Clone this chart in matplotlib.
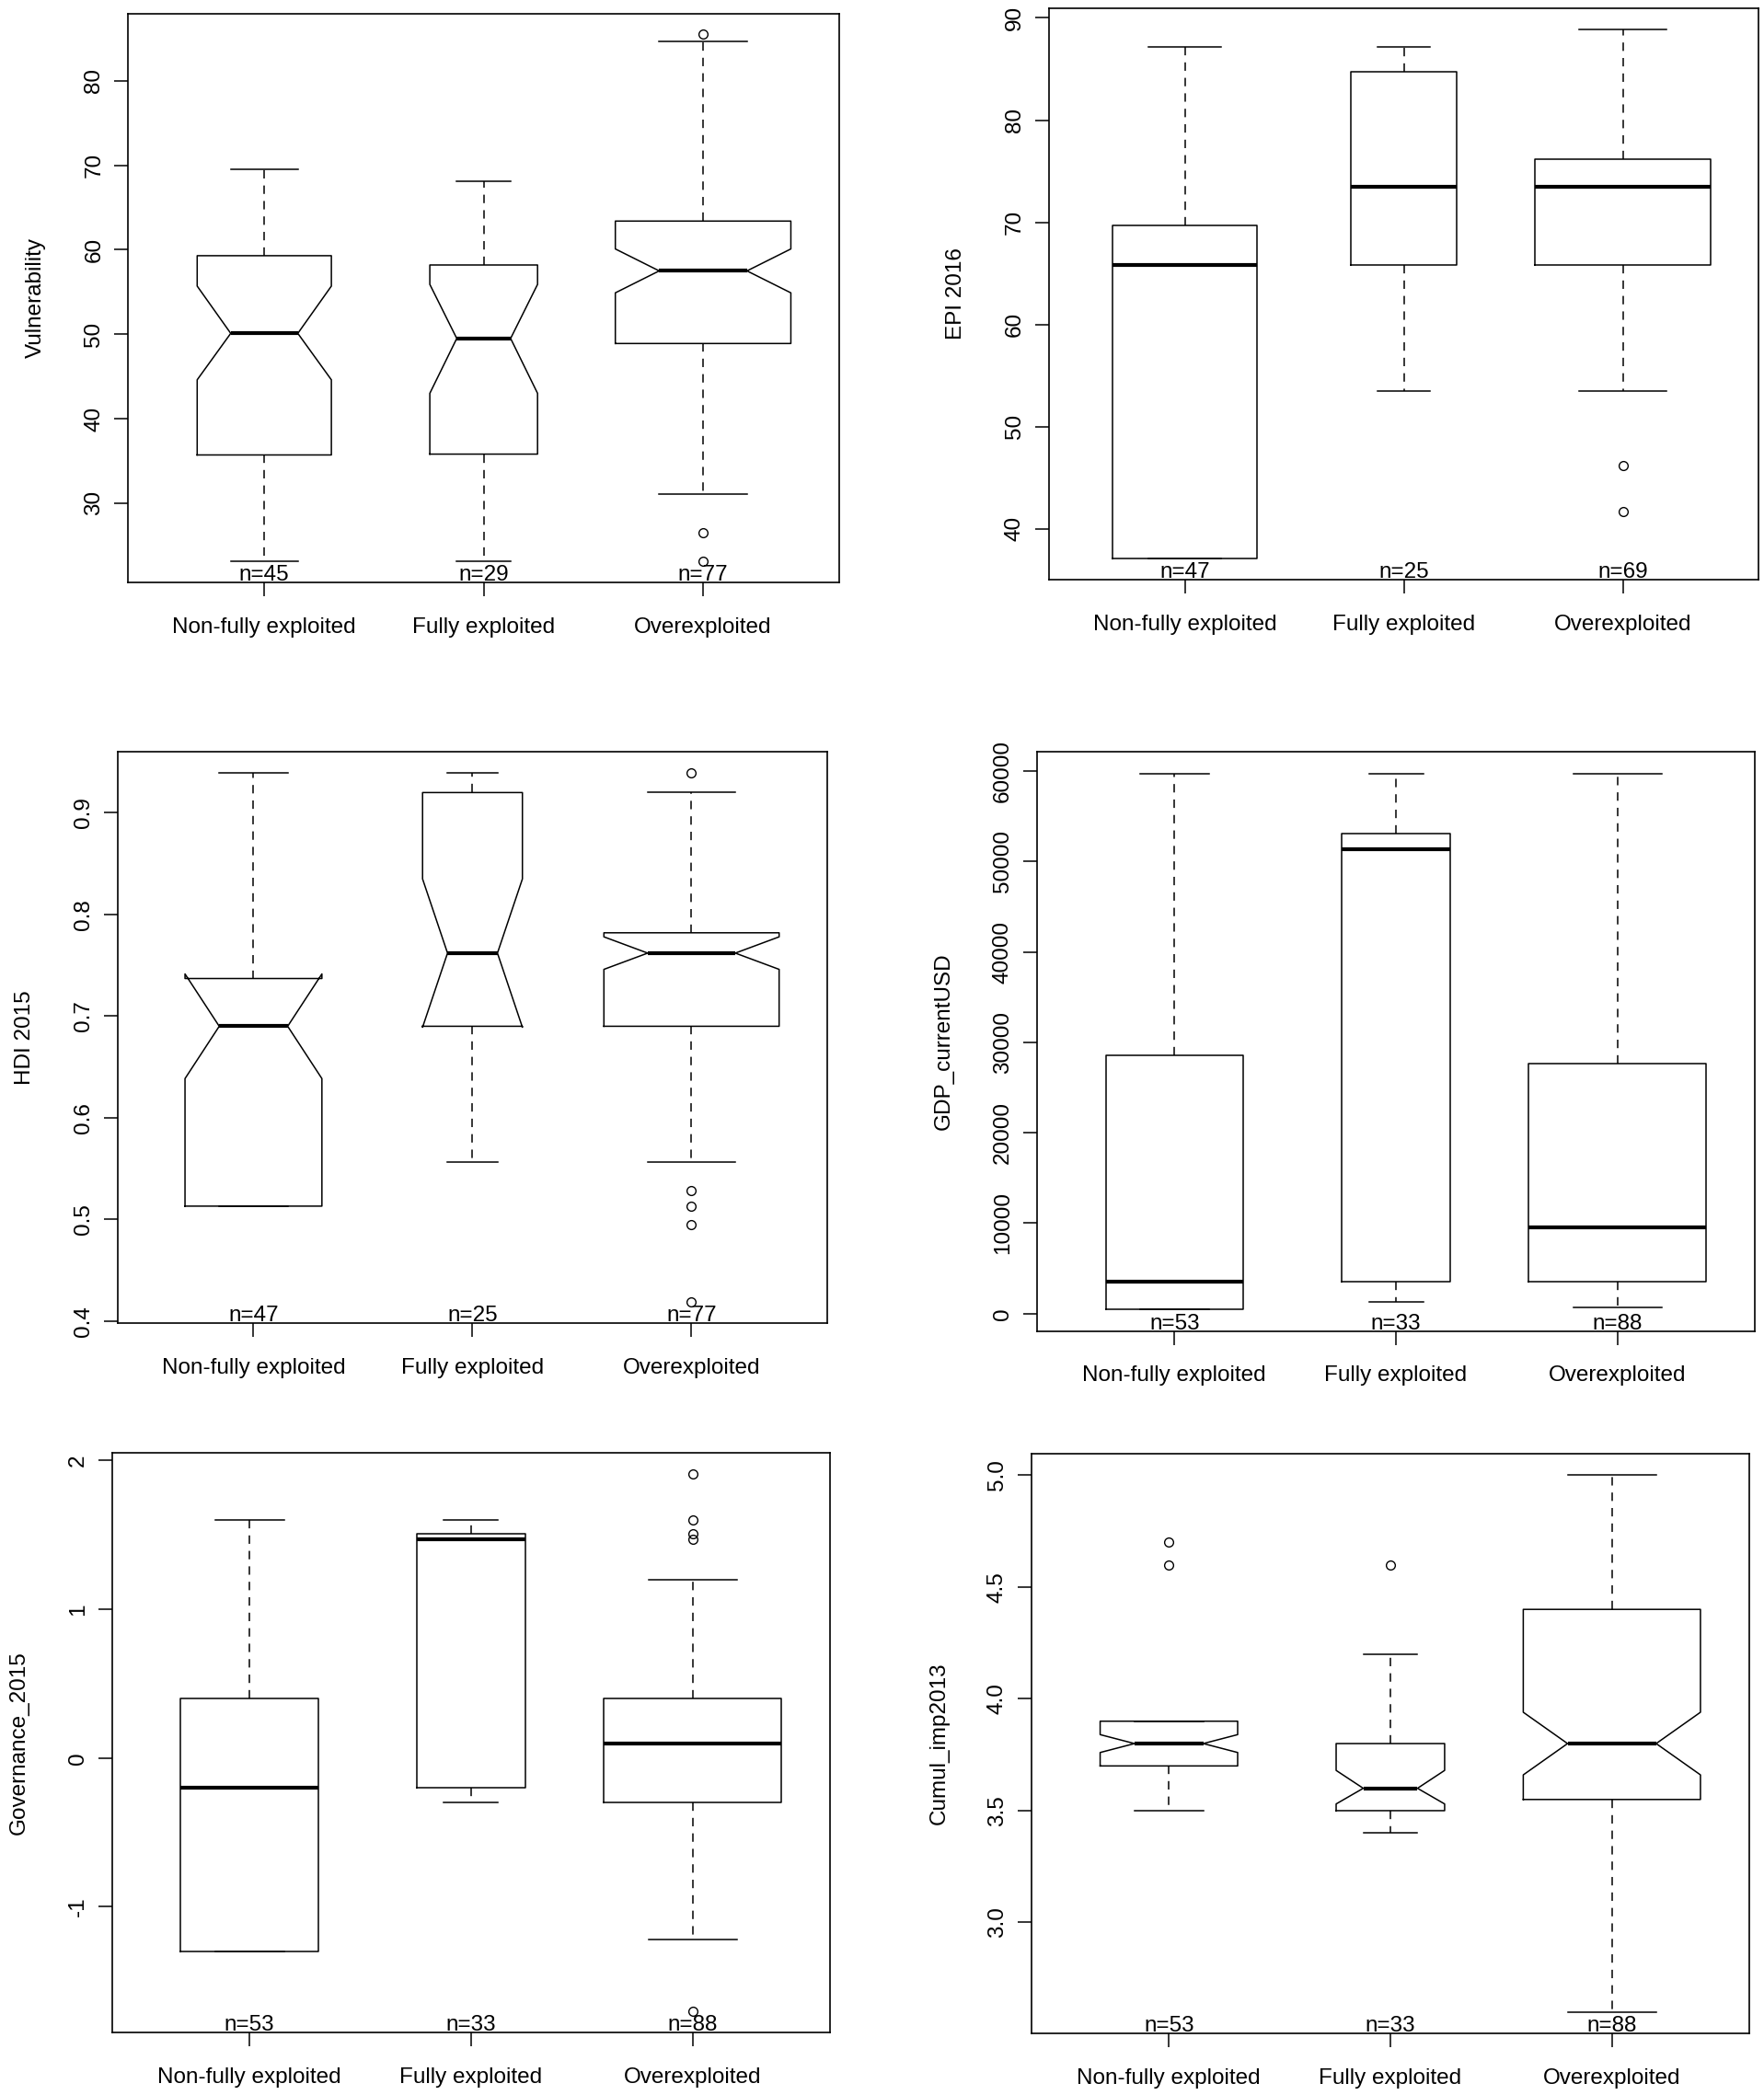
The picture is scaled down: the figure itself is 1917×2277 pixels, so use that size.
import numpy as np
import matplotlib
matplotlib.use('Agg')
import matplotlib.pyplot as plt
import matplotlib.transforms as mtransforms

plt.rcParams['font.family'] = ['Liberation Sans', 'DejaVu Sans']

groups = ['Non-fully exploited', 'Fully exploited', 'Overexploited']

# --- Vulnerability (notched) ---
vul_n = [45, 29, 77]
vul_whislo = [23.1, 23.1, 31.1]
vul_q1 = [35.7, 35.8, 48.9]
vul_cilo = [44.6, 43.0, 54.9]
vul_med = [50.1, 49.5, 57.5]
vul_cihi = [55.7, 55.9, 60.1]
vul_q3 = [59.3, 58.2, 63.4]
vul_whishi = [69.5, 68.1, 84.7]
vul_out = [[], [], [85.5, 26.5, 23.1]]
vul_ticks = [30, 40, 50, 60, 70, 80]

# --- EPI 2016 ---
epi_n = [47, 25, 69]
epi_whislo = [37.1, 53.5, 53.5]
epi_q1 = [37.1, 65.8, 65.8]
epi_med = [65.8, 73.5, 73.5]
epi_q3 = [69.7, 84.7, 76.2]
epi_whishi = [87.2, 87.2, 88.9]
epi_out = [[], [], [46.2, 41.7]]
epi_ticks = [40, 50, 60, 70, 80, 90]

# --- HDI 2015 (notched) ---
hdi_n = [47, 25, 77]
hdi_whislo = [0.513, 0.556, 0.556]
hdi_q1 = [0.513, 0.690, 0.690]
hdi_cilo = [0.6385, 0.689, 0.746]
hdi_med = [0.690, 0.762, 0.762]
hdi_cihi = [0.7415, 0.835, 0.778]
hdi_q3 = [0.737, 0.920, 0.782]
hdi_whishi = [0.939, 0.939, 0.920]
hdi_out = [[], [], [0.939, 0.528, 0.513, 0.495, 0.419]]
hdi_ticks = [0.4, 0.5, 0.6, 0.7, 0.8, 0.9]

# --- GDP current USD ---
gdp_n = [53, 33, 88]
gdp_whislo = [450, 1260, 680]
gdp_q1 = [450, 3500, 3500]
gdp_med = [3500, 51360, 9520]
gdp_q3 = [28570, 53060, 27650]
gdp_whishi = [59720, 59720, 59720]
gdp_out = [[], [], []]
gdp_ticks = [0, 10000, 20000, 30000, 40000, 50000, 60000]

# --- Governance 2015 ---
gov_n = [53, 33, 88]
gov_whislo = [-1.30, -0.30, -1.22]
gov_q1 = [-1.30, -0.20, -0.30]
gov_med = [-0.20, 1.47, 0.10]
gov_q3 = [0.40, 1.51, 0.40]
gov_whishi = [1.60, 1.60, 1.20]
gov_out = [[], [], [1.91, 1.60, 1.51, 1.47, -1.70]]
gov_ticks = [-1, 0, 1, 2]

# --- Cumul_imp2013 (notched) ---
cum_n = [53, 33, 88]
cum_whislo = [3.50, 3.40, 2.60]
cum_q1 = [3.70, 3.50, 3.55]
cum_cilo = [3.76, 3.53, 3.66]
cum_med = [3.80, 3.60, 3.80]
cum_cihi = [3.84, 3.68, 3.94]
cum_q3 = [3.90, 3.80, 4.40]
cum_whishi = [3.90, 4.20, 5.00]
cum_out = [[4.7, 4.6], [4.6], []]
cum_ticks = [3.0, 3.5, 4.0, 4.5, 5.0]
cum_ticklabels = ['3.0', '3.5', '4.0', '4.5', '5.0']

fig = plt.figure(figsize=(19.17, 22.77), dpi=100)

FS = 17.5


def draw_panel(rect, ylabel, n, whislo, q1, med, q3, whishi, out, ticks,
               ticklabels=None, cilo=None, cihi=None):
    ax = fig.add_axes(rect)
    notch = cilo is not None
    stats = []
    for i in range(3):
        s = dict(whislo=whislo[i], q1=q1[i], med=med[i], q3=q3[i],
                 whishi=whishi[i], fliers=out[i])
        if notch:
            s['cilo'] = cilo[i]
            s['cihi'] = cihi[i]
        stats.append(s)
    # varwidth like R: proportional to sqrt(n)
    widths = [0.8 * np.sqrt(k) / np.sqrt(max(n)) for k in n]
    ax.bxp(stats, positions=[1, 2, 3], widths=widths, shownotches=notch,
           boxprops=dict(color='black', linewidth=1.1),
           medianprops=dict(color='black', linewidth=3.0, solid_capstyle='butt'),
           whiskerprops=dict(color='black', linewidth=1.1, linestyle=(0, (6, 5))),
           capprops=dict(color='black', linewidth=1.1),
           flierprops=dict(marker='o', markerfacecolor='none', markeredgecolor='black',
                           markersize=7, markeredgewidth=1.0),
           manage_ticks=False)

    # R style axis limits: data range + 4%
    vals = list(whislo) + list(whishi) + [v for o in out for v in o]
    if notch:
        vals += list(cilo) + list(cihi)
    lo, hi = min(vals), max(vals)
    pad = 0.04 * (hi - lo)
    ax.set_ylim(lo - pad, hi + pad)
    ax.set_xlim(0.38, 3.62)

    ax.set_xticks([1, 2, 3])
    ax.set_xticklabels(groups, fontsize=FS)
    ax.set_yticks(ticks)
    if ticklabels is None:
        ticklabels = [str(t) for t in ticks]
    ax.set_yticklabels(ticklabels, fontsize=FS, rotation=90, va='center')
    ax.tick_params(axis='both', direction='out', length=10.8, width=1.1, color='black')
    ax.tick_params(axis='x', pad=16.5)
    ax.tick_params(axis='y', pad=8)
    for sp in ax.spines.values():
        sp.set_linewidth(1.2)
        sp.set_color('black')
    ax.set_ylabel(ylabel, fontsize=FS, labelpad=30)

    trans = mtransforms.blended_transform_factory(ax.transData, ax.transAxes)
    for i, k in enumerate(n):
        ax.text(i + 1, 0.003, f'n={k}', transform=trans, ha='center',
                va='baseline', fontsize=FS)
    return ax


draw_panel([0.0727, 0.7220, 0.4030, 0.2716], 'Vulnerability', vul_n, vul_whislo,
           vul_q1, vul_med, vul_q3, vul_whishi, vul_out, vul_ticks,
           cilo=vul_cilo, cihi=vul_cihi)
draw_panel([0.5947, 0.7233, 0.4022, 0.2729], 'EPI 2016', epi_n, epi_whislo,
           epi_q1, epi_med, epi_q3, epi_whishi, epi_out, epi_ticks)
draw_panel([0.0667, 0.3686, 0.4023, 0.2724], 'HDI 2015', hdi_n, hdi_whislo,
           hdi_q1, hdi_med, hdi_q3, hdi_whishi, hdi_out, hdi_ticks,
           cilo=hdi_cilo, cihi=hdi_cihi)
draw_panel([0.5879, 0.3647, 0.4069, 0.2763], 'GDP_currentUSD', gdp_n, gdp_whislo,
           gdp_q1, gdp_med, gdp_q3, gdp_whishi, gdp_out, gdp_ticks)
draw_panel([0.0636, 0.0299, 0.4069, 0.2768], 'Governance_2015', gov_n, gov_whislo,
           gov_q1, gov_med, gov_q3, gov_whishi, gov_out, gov_ticks)
draw_panel([0.5848, 0.0294, 0.4068, 0.2767], 'Cumul_imp2013', cum_n, cum_whislo,
           cum_q1, cum_med, cum_q3, cum_whishi, cum_out, cum_ticks,
           ticklabels=cum_ticklabels, cilo=cum_cilo, cihi=cum_cihi)

fig.savefig('out.png', dpi=100, facecolor='white')
